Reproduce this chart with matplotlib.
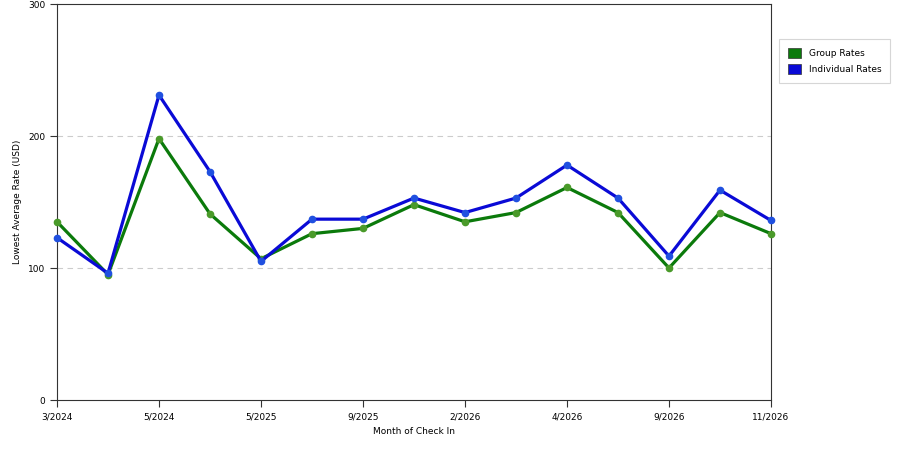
import matplotlib
matplotlib.use('Agg')
import matplotlib.pyplot as plt
from matplotlib.patches import Patch

months = ['3/2024', '4/2024', '5/2024', '6/2024', '5/2025', '7/2025', '9/2025', '11/2025',
          '2/2026', '3/2026', '4/2026', '6/2026', '9/2026', '10/2026', '11/2026']
shown_labels = ['3/2024', '', '5/2024', '', '5/2025', '', '9/2025', '',
                '2/2026', '', '4/2026', '', '9/2026', '', '11/2026']
group_rates = [135, 95, 198, 141, 107, 126, 130, 148, 135, 142, 161, 142, 100, 142, 126]
indiv_rates = [123, 96, 231, 173, 105, 137, 137, 153, 142, 153, 178, 153, 109, 159, 136]

green = '#0b7a0b'
blue = '#0a0ad6'

fig = plt.figure(figsize=(9, 4.5), dpi=100)
ax = fig.add_axes([57/900, 1 - 400/450, (771 - 57)/900, (400 - 4)/450])

x = list(range(len(months)))
ax.plot(x, group_rates, color=green, lw=2.3, marker='o', ms=4.5,
        mfc='#4a9a2a', mec='#4a9a2a', zorder=3, clip_on=False)
ax.plot(x, indiv_rates, color=blue, lw=2.3, marker='o', ms=4.5,
        mfc='#2050e0', mec='#2050e0', zorder=4, clip_on=False)

ax.set_xlim(0, len(months) - 1)
ax.set_ylim(0, 300)
ax.set_yticks([0, 100, 200, 300])
ax.set_xticks(x)
ax.set_xticklabels(shown_labels)
for i, t in enumerate(ax.xaxis.get_major_ticks()):
    if i % 2:
        t.tick1line.set_visible(False)
ax.tick_params(labelsize=6.5, length=5, width=0.8, color='#333333', direction='out')
ax.tick_params(axis='x', pad=4)

for v in [100, 200]:
    ax.axhline(v, color='#cccccc', lw=0.8, ls=(0, (5, 4)), zorder=1)

for s in ax.spines.values():
    s.set_color('#333333')
    s.set_linewidth(0.8)

ax.set_xlabel('Month of Check In', fontsize=6.5, labelpad=4)
ax.set_ylabel('Lowest Average Rate (USD)', fontsize=6.5, labelpad=4)

handles = [Patch(facecolor=green, edgecolor='#333333', lw=0.5, label='Group Rates'),
           Patch(facecolor=blue, edgecolor='#333333', lw=0.5, label='Individual Rates')]
leg = fig.legend(handles=handles, loc='upper left', bbox_to_anchor=(779/900, 1 - 39/450),
                 borderaxespad=0, fontsize=6.5, frameon=True, fancybox=False,
                 handlelength=1.4, handleheight=1.4, borderpad=1.0, labelspacing=0.6,
                 handletextpad=0.9)
leg.get_frame().set_edgecolor('#cccccc')
leg.get_frame().set_linewidth(0.8)

fig.savefig('out.png', dpi=100)
